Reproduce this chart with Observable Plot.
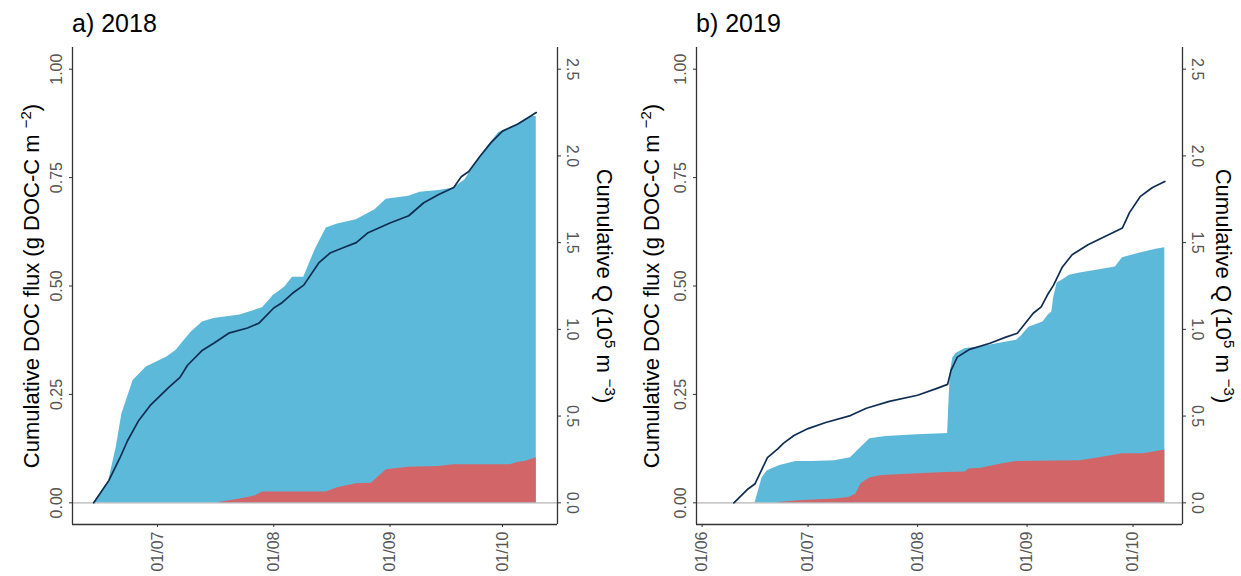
<!DOCTYPE html>
<html>
<head>
<meta charset="utf-8">
<script src="https://cdn.jsdelivr.net/npm/d3@7"></script>
<script src="https://cdn.jsdelivr.net/npm/@observablehq/plot@0.6"></script>
<style>
  html, body { margin: 0; padding: 0; background: #fff; }
  body { width: 1241px; height: 576px; position: relative; overflow: hidden; font-family: "Liberation Sans", Arial, sans-serif; }
  .panel { position: absolute; top: 0; height: 576px; }
  .ptitle { position: absolute; top: 11px; font-size: 25px; line-height: 1; color: #000; white-space: nowrap; }
  .pchart { position: absolute; left: 0; top: 40px; }
</style>
</head>
<body>
<div class="panel" id="pa" style="left:0;width:620px"><div class="ptitle" style="left:72px">a) 2018</div><div class="pchart"></div></div>
<div class="panel" id="pb" style="left:620px;width:621px"><div class="ptitle" style="left:76px">b) 2019</div><div class="pchart"></div></div>
<script>
// ---------------- DATA ----------------
// Panel a) 2018 — cumulative DOC flux (g DOC-C m-2), total (blue area)
const a2018TotalDates = ["06-14","06-18","06-20","06-21T12","06-24T12","06-28","07-03T12","07-06","07-07T12","07-10","07-13","07-16","07-23","07-29","08-01","08-02","08-04","08-06","08-09","08-12","08-15","08-18","08-23","08-28","08-31","09-06","09-09","09-14","09-18","09-21","09-23","09-26","09-30","10-04","10-07","10-09","10-10"];
const a2018TotalFlux  = [0,0.051,0.128,0.205,0.282,0.313,0.336,0.352,0.368,0.394,0.417,0.425,0.433,0.45,0.479,0.485,0.498,0.52,0.52,0.583,0.634,0.643,0.653,0.676,0.70,0.707,0.716,0.72,0.726,0.745,0.772,0.81,0.854,0.868,0.884,0.891,0.891];
// Panel a) 2018 — red component
const a2018RedDates = ["07-17","07-23","07-27","07-29","08-15","08-18","08-23","08-27","08-31","09-06","09-14","09-18","10-03","10-05","10-07","10-10"];
const a2018RedFlux  = [0,0.009,0.016,0.025,0.025,0.035,0.044,0.045,0.076,0.082,0.084,0.088,0.088,0.093,0.095,0.104];
// Panel a) 2018 — cumulative Q (10^5 m-3)
const a2018QDates = ["06-14","06-18","06-21","06-23","06-26","06-29","07-04","07-07","07-09","07-13","07-16","07-20","07-25","07-28","08-01","08-03","08-06","08-09","08-13","08-16","08-20","08-23","08-26","09-01","09-06","09-10","09-14","09-18","09-20","09-22","09-25","09-28","10-01","10-05","10-08","10-10"];
const a2018Q      = [0,0.128,0.26,0.358,0.475,0.56,0.665,0.723,0.793,0.88,0.92,0.978,1.008,1.035,1.123,1.15,1.208,1.255,1.383,1.44,1.475,1.5,1.555,1.613,1.655,1.73,1.778,1.818,1.88,1.91,1.998,2.078,2.143,2.183,2.223,2.25];

// Panel b) 2019 — total (blue area)
const b2019TotalDates = ["06-16","06-18","06-19T12","06-23","06-27T12","07-02","07-08T12","07-13","07-15","07-18T12","07-23","08-01","08-09T12","08-10T06","08-11","08-12","08-14T12","08-18","08-29","08-30T12","09-01T12","09-05T12","09-07","09-08","09-08T12","09-09T12","09-11","09-13","09-16","09-26","09-28","10-03","10-07T12","10-10"];
const b2019TotalFlux  = [0,0.058,0.074,0.086,0.095,0.095,0.097,0.104,0.12,0.148,0.153,0.157,0.16,0.30,0.335,0.345,0.356,0.359,0.375,0.386,0.405,0.417,0.433,0.44,0.472,0.507,0.514,0.525,0.53,0.544,0.565,0.576,0.585,0.588];
// Panel b) 2019 — red component
const b2019RedDates = ["06-22","06-28T12","07-08T12","07-12T12","07-14T12","07-16","07-18T12","07-22","08-01","08-09","08-14T12","08-15T12","08-19","08-25","08-29","09-16","09-21T12","09-28","10-04","10-10"];
const b2019RedFlux  = [0,0.005,0.009,0.012,0.02,0.044,0.058,0.063,0.067,0.07,0.071,0.078,0.08,0.09,0.095,0.097,0.104,0.113,0.113,0.122];
// Panel b) 2019 — cumulative Q (10^5 m-3)
const b2019QDates = ["06-10","06-11T12","06-14","06-16","06-17T18","06-19T12","06-22T12","06-24","06-27","07-01","07-06","07-13","07-17T12","07-24","08-01","08-06T12","08-09T12","08-10T12","08-12T06","08-15T18","08-21T12","08-26","08-29T06","08-31T12","09-02T18","09-05","09-06T18","09-08T12","09-11","09-13T18","09-18T06","09-22T18","09-28","09-30","10-03","10-06T12","10-10"];
const b2019Q      = [0,0.03,0.08,0.11,0.185,0.26,0.313,0.343,0.388,0.428,0.463,0.503,0.545,0.585,0.62,0.66,0.683,0.765,0.84,0.885,0.92,0.955,0.978,1.035,1.093,1.13,1.198,1.255,1.36,1.43,1.488,1.533,1.585,1.673,1.765,1.818,1.853];

// Axis ticks
const fluxTicks = [0, 0.25, 0.5, 0.75, 1];
const qTicks = [0, 0.5, 1, 1.5, 2, 2.5];
const qPerFlux = 2.5; // secondary axis: 1.00 g m-2 <-> 2.5 x10^5 m3
const xTicksA = ["2018-07-01","2018-08-01","2018-09-01","2018-10-01"];
const xTicksB = ["2019-06-01","2019-07-01","2019-08-01","2019-09-01","2019-10-01"];
const xDomainA = ["2018-06-08T08:00Z","2018-10-15T16:00Z"];
const xDomainB = ["2019-05-30T10:00Z","2019-10-15T00:00Z"];

const BLUE = "#5DB9DA", RED = "#D26567", NAVY = "#0F2D52", AXIS = "#333333", TICKTXT = "#555555";
const FONT = "Liberation Sans, Arial, Helvetica, sans-serif";

// ---------------- HELPERS ----------------
const parse = (y, s) => new Date(`${y}-${s.includes("T") ? s : s + "T00"}:00Z`);
const series = (y, dates, vals, key) => dates.map((d, i) => ({date: parse(y, d), [key]: vals[i]}));

const leftParts = [["Cumulative DOC flux (g DOC-C m ", false], ["\u22122", true], [")", false]];
const rightParts = [["Cumulative Q (10", false], ["5", true], [" m ", false], ["\u22123", true], [")", false]];
const plain = parts => parts.map(p => p[0]).join("");

function panel(el, cfg) {
  const total = series(cfg.year, cfg.totalDates, cfg.totalFlux, "v");
  const red = series(cfg.year, cfg.redDates, cfg.redFlux, "v");
  const q = series(cfg.year, cfg.qDates, cfg.q, "q");
  const xd = cfg.xDomain.map(d => new Date(d));
  const xt = cfg.xTicks.map(d => new Date(d + "T00:00Z"));
  const yd = [-0.05, 1.05];
  const svg = Plot.plot({
    width: cfg.width, height: 536,
    marginTop: 7, marginBottom: 52, marginLeft: cfg.ml, marginRight: cfg.mr,
    style: {fontFamily: FONT, fontSize: "16px", background: "white", overflow: "visible"},
    x: {type: "utc", domain: xd},
    y: {domain: yd},
    marks: [
      Plot.ruleY([0], {stroke: "#b5b5b5", strokeWidth: 1.2}),
      Plot.areaY(total, {x: "date", y: "v", fill: BLUE}),
      Plot.areaY(red, {x: "date", y: "v", fill: RED}),
      Plot.line(q, {x: "date", y: d => d.q / qPerFlux, stroke: NAVY, strokeWidth: 1.7}),
      Plot.ruleX([xd[0]], {stroke: AXIS, strokeWidth: 1.3}),
      Plot.ruleX([xd[1]], {stroke: AXIS, strokeWidth: 1.3}),
      Plot.ruleY([yd[0]], {stroke: AXIS, strokeWidth: 1.3}),
      Plot.axisY(fluxTicks, {anchor: "left", tickFormat: d3.format(".2f"), tickRotate: -90, tickSize: 3, tickPadding: 8, label: null, stroke: AXIS, fill: TICKTXT, fontSize: 16}),
      Plot.axisY(qTicks.map(v => v / qPerFlux), {anchor: "right", tickFormat: d => (d * qPerFlux).toFixed(1), tickRotate: 90, lineAnchor: "bottom", tickSize: 3, tickPadding: 6, label: null, stroke: AXIS, fill: TICKTXT, fontSize: 16}),
      Plot.axisX(xt, {anchor: "bottom", tickFormat: d3.utcFormat("%d/%m"), tickRotate: -90, tickSize: 3, tickPadding: 4, label: null, stroke: AXIS, fill: TICKTXT, fontSize: 16}),
      Plot.text([plain(leftParts)], {text: d => d, frameAnchor: "left", textAnchor: "middle", lineAnchor: "middle", rotate: -90, dx: cfg.ldx, fontSize: 22, fill: "black"}),
      Plot.text([plain(rightParts)], {text: d => d, frameAnchor: "right", textAnchor: "middle", lineAnchor: "middle", rotate: 90, dx: cfg.rdx, fontSize: 22, fill: "black"})
    ]
  });
  // superscripts
  for (const parts of [leftParts, rightParts]) {
    const label = plain(parts);
    d3.select(svg).selectAll("text").filter(function() { return this.textContent === label; }).each(function() {
      const t = d3.select(this);
      t.text(null);
      let up = false;
      for (const [s, sup] of parts) {
        const ts = t.append("tspan").text(s);
        if (sup && !up) { ts.attr("dy", -8).attr("font-size", 15); up = true; }
        else if (sup) { ts.attr("font-size", 15); }
        else if (up) { ts.attr("dy", 8); up = false; }
      }
    });
  }
  el.querySelector(".pchart").appendChild(svg);
}

panel(document.getElementById("pa"), {
  year: 2018, width: 620, ml: 72, mr: 63, ldx: -41, rdx: 47,
  totalDates: a2018TotalDates, totalFlux: a2018TotalFlux,
  redDates: a2018RedDates, redFlux: a2018RedFlux,
  qDates: a2018QDates, q: a2018Q, xDomain: xDomainA, xTicks: xTicksA
});
panel(document.getElementById("pb"), {
  year: 2019, width: 621, ml: 76, mr: 59, ldx: -45, rdx: 41,
  totalDates: b2019TotalDates, totalFlux: b2019TotalFlux,
  redDates: b2019RedDates, redFlux: b2019RedFlux,
  qDates: b2019QDates, q: b2019Q, xDomain: xDomainB, xTicks: xTicksB
});
</script>
</body>
</html>
